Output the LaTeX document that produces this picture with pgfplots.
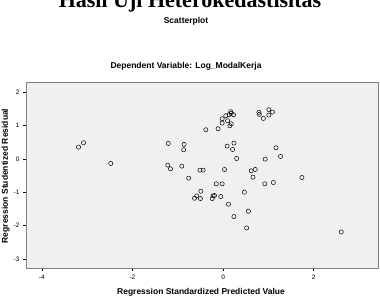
\documentclass[border=0pt]{standalone}
\usepackage{pgfplots}
\pgfplotsset{compat=1.18}
\usepackage{fontspec}
\setmainfont{Liberation Sans}
\newfontfamily\titlefont{Liberation Serif}
\definecolor{bgc}{HTML}{F0F0F0}
\definecolor{frm}{HTML}{7F7F7F}
\begin{document}
\begin{tikzpicture}
\begin{axis}[
  name=ax,
  anchor=south west, at={(0pt,0pt)},
  width=352pt, height=185pt, scale only axis,
  xmin=-4.35, xmax=3.42, ymin=-3.27, ymax=2.27,
  xtick={-4,-2,0,2}, ytick={-3,-2,-1,0,1,2},
  axis background/.style={fill=bgc},
  axis line style={frm, line width=1pt},
  tick style={black, line width=0.5pt},
  tick align=outside, major tick length=3pt,
  xtick pos=bottom, ytick pos=left,
  tick label style={font=\fontsize{6.5}{7}\selectfont},
  /pgf/number format/assume math mode=true,
  clip=false,
]
\addplot[only marks, mark=o, mark size=2.1pt, mark options={black, line width=0.5pt}] coordinates {
(-3.19,0.35) (-3.08,0.48) (-2.48,-0.14)
(-1.21,0.46) (-1.22,-0.19) (-1.16,-0.30)
(-0.86,0.43) (-0.87,0.27) (-0.91,-0.22) (-0.76,-0.58)
(-0.63,-1.18) (-0.58,-1.11) (-0.50,-1.19) (-0.49,-0.97)
(-0.51,-0.34) (-0.44,-0.34) (-0.38,0.87)
(-0.24,-1.19) (-0.22,-1.11) (-0.19,-1.10)
(-0.15,-0.75) (-0.02,-0.75) (-0.05,-1.13) (0.03,-0.32)
(-0.11,0.90) (-0.02,1.07) (-0.02,1.20) (0.06,1.29) (0.13,1.32)
(0.17,1.41) (0.18,1.36) (0.23,1.32) (0.10,1.14) (0.15,0.99) (0.18,1.05)
(0.09,0.38) (0.24,0.47) (0.21,0.28) (0.30,0.01)
(0.12,-1.36) (0.24,-1.73) (0.47,-1.00) (0.52,-2.07) (0.56,-1.57)
(0.62,-0.36) (0.71,-0.32) (0.66,-0.55)
(0.79,1.39) (0.80,1.33) (0.89,1.21) (1.01,1.47) (1.01,1.31) (1.09,1.40)
(0.93,-0.01) (0.92,-0.75) (1.11,-0.71) (1.17,0.33) (1.27,0.07)
(1.74,-0.56) (2.61,-2.19)
};
\end{axis}
\path[use as bounding box] (-26pt,-32pt) rectangle (354pt,268pt);
\node[anchor=base,inner sep=0pt] at (164pt,260pt) {\titlefont\fontsize{22}{24}\selectfont\bfseries Hasil Uji Heterokedastisitas};
\node[anchor=base,inner sep=0pt] at (160pt,244pt) {\fontsize{8.5}{10}\selectfont\bfseries Scatterplot};
\node[anchor=base,inner sep=0pt] at (160pt,199pt) {\fontsize{8.5}{10}\selectfont\bfseries Dependent Variable: Log\_ModalKerja};
\node[anchor=base,inner sep=0pt] at (175pt,-26pt) {\fontsize{8.5}{10}\selectfont\bfseries Regression Standardized Predicted Value};
\node[anchor=base,inner sep=0pt,rotate=90] at (-18pt,92pt) {\fontsize{8.5}{10}\selectfont\bfseries Regression Studentized Residual};
\end{tikzpicture}
\end{document}
